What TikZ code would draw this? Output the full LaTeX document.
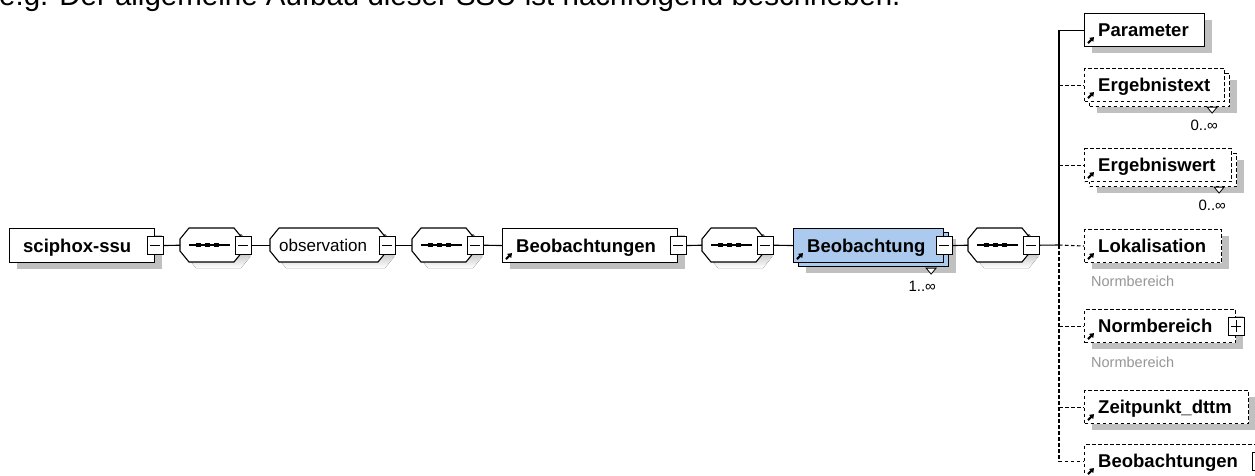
\documentclass[tikz,border=0pt]{standalone}
\usepackage{fontspec}
\setmainfont{Liberation Sans}
\usetikzlibrary{calc,arrows.meta,shadows}
\definecolor{shade}{RGB}{192,192,192}
\definecolor{blu}{RGB}{172,201,238}
\definecolor{gtext}{RGB}{150,150,150}
\tikzset{
  box/.style={draw, line width=1.1pt, fill=white, inner sep=0, anchor=north west, minimum height=34},
  cbox/.style={box, minimum height=33},
  dsh/.style={dash pattern=on 3.5pt off 2.5pt},
  shadowed/.style={drop shadow={shadow xshift=7pt, shadow yshift=-6pt, fill=shade, opacity=1}},
  lbl/.style={font=\fontsize{18.5}{20}\selectfont\bfseries, inner sep=0, anchor=base west},
  rlbl/.style={font=\fontsize{17}{19}\selectfont, inner sep=0, anchor=base west},
  glbl/.style={font=\fontsize{14.5}{16}\selectfont, text=gtext, inner sep=0, anchor=base west},
  mult/.style={font=\fontsize{15}{17}\selectfont, inner sep=0, anchor=base east},
  conn/.style={line width=1.1pt},
  refarrow/.style={line width=2pt, -{Triangle[length=4pt,width=5.5pt]}},
  mbox/.style={draw, line width=1pt, fill=white, minimum width=16, minimum height=18, inner sep=0,
    path picture={\draw[line width=1pt] ([xshift=3pt]path picture bounding box.west) -- ([xshift=-3pt]path picture bounding box.east);}},
  pbox/.style={mbox, path picture={\draw[line width=1pt] ([xshift=3pt]path picture bounding box.west) -- ([xshift=-3pt]path picture bounding box.east);
    \draw[line width=1pt] ([yshift=3pt]path picture bounding box.south) -- ([yshift=-3pt]path picture bounding box.north);}},
  tri/.style={draw=black, line width=0.8pt, fill=white},
}
\newcommand\seqoct[2]{%
  \node[inner sep=0, minimum width=63, minimum height=34, anchor=north west] (#1) at (#2,228) {};
  \fill[shade] (#2+16,234) -- (#2+61,234) -- (#2+70,245) -- (#2+70,257) -- (#2+61,268) -- (#2+16,268) -- (#2+7,257) -- (#2+7,245) -- cycle;
  \draw[line width=1.1pt, fill=white] (#2+9,228) -- (#2+54,228) -- (#2+63,239) -- (#2+63,251) -- (#2+54,262) -- (#2+9,262) -- (#2,251) -- (#2,239) -- cycle;
  \draw[line width=1.1pt] (#2+9,245) -- (#2+50,245);
  \foreach \d in {18,27,36} {\fill (#2+\d-2.5,243) rectangle (#2+\d+2.5,247);}
  \node[mbox] (#1-m) at (#1.east) {};
}
\begin{document}
\begin{tikzpicture}[x=1pt,y=-1pt]
\useasboundingbox (0,0) rectangle (1255,475);
\fill[white] (0,0) rectangle (1255,475);

\node[anchor=base west, font=\fontsize{29.5}{32}\selectfont, inner sep=0] (title) at (-1,5) {e.g. Der allgemeine Aufbau dieser SSU ist nachfolgend beschrieben.};

% ---- main row
\node[box, shadowed, minimum width=145] (ssu) at (9,228) {};
\node[lbl] (ssu-t) at ($(ssu.west)+(14,6.7)$) {sciphox-ssu};
\node[mbox] (ssu-m) at (ssu.east) {};

\seqoct{seqA}{180}

\node[inner sep=0, minimum width=117, minimum height=34, anchor=north west] (obs) at (270,228) {};
\fill[shade] (286,234) -- (385,234) -- (394,245) -- (394,257) -- (385,268) -- (286,268) -- (277,257) -- (277,245) -- cycle;
\draw[line width=1.1pt, fill=white] (279,228) -- (378,228) -- (387,239) -- (387,251) -- (378,262) -- (279,262) -- (270,251) -- (270,239) -- cycle;
\node[rlbl] (obs-t) at ($(obs.west)+(9,6.5)$) {observation};
\node[mbox] (obs-m) at (obs.east) {};

\seqoct{seqB}{412}

\node[box, shadowed, minimum width=175] (beos) at (502,228) {};
\node[lbl] (beos-t) at ($(beos.west)+(14,6.7)$) {Beobachtungen};
\draw[refarrow] ($(beos.south west)+(4,-4)$) -- ++(6,-6);
\node[mbox] (beos-m) at (beos.east) {};

\seqoct{seqC}{702}

\node[box, shadowed, fill=blu, minimum width=150] (beoback) at (798,232) {};
\node[box, fill=blu, minimum width=150] (beo) at (793,228) {};
\node[lbl] (beo-t) at ($(beo.west)+(14,6.7)$) {Beobachtung};
\draw[refarrow] ($(beo.south west)+(4,-4)$) -- ++(6,-6);
\node[mbox] (beo-m) at (beo.east) {};
\draw[tri] ($(beo.south east)+(-18,5)$) -- ++(10,0) -- ++(-5,6) -- cycle;
\node[mult] (beo-n) at ($(beo.south east)+(-8,28)$) {1..∞};

\seqoct{seqD}{968}

\draw[conn] (ssu-m.east) -- (seqA.west);
\draw[conn] (seqA-m.east) -- (obs.west);
\draw[conn] (obs-m.east) -- (seqB.west);
\draw[conn] (seqB-m.east) -- (beos.west);
\draw[conn] (beos-m.east) -- (seqC.west);
\draw[conn] (seqC-m.east) -- (beo.west);
\draw[conn] (beo-m.east) -- (seqD.west);
\coordinate (jn) at (1059,245);
\draw[conn] (seqD-m.east) -- (jn);

% ---- children
\node[cbox, shadowed, minimum width=120] (par) at (1084,13) {};
\node[lbl] (par-t) at ($(par.west)+(14,6.7)$) {Parameter};
\draw[refarrow] ($(par.south west)+(4,-4)$) -- ++(6,-6);

\node[cbox, dsh, shadowed, minimum width=140] (ergtb) at (1089,73) {};
\node[cbox, dsh, minimum width=140] (ergt) at (1084,68) {};
\node[lbl] (ergt-t) at ($(ergt.west)+(14,6.7)$) {Ergebnistext};
\draw[refarrow] ($(ergt.south west)+(4,-4)$) -- ++(6,-6);
\draw[tri] ($(ergt.south east)+(-18,5)$) -- ++(10,0) -- ++(-5,6) -- cycle;
\node[mult] (ergt-n) at ($(ergt.south east)+(-7,28)$) {0..∞};

\node[cbox, dsh, shadowed, minimum width=147] (ergwb) at (1089,153) {};
\node[cbox, dsh, minimum width=147] (ergw) at (1084,148) {};
\node[lbl] (ergw-t) at ($(ergw.west)+(14,6.7)$) {Ergebniswert};
\draw[refarrow] ($(ergw.south west)+(4,-4)$) -- ++(6,-6);
\draw[tri] ($(ergw.south east)+(-18,5)$) -- ++(10,0) -- ++(-5,6) -- cycle;
\node[mult] (ergw-n) at ($(ergw.south east)+(-6,28)$) {0..∞};

\node[cbox, dsh, shadowed, minimum width=137] (lok) at (1084,229) {};
\node[lbl] (lok-t) at ($(lok.west)+(14,6.7)$) {Lokalisation};
\draw[refarrow] ($(lok.south west)+(4,-4)$) -- ++(6,-6);
\node[glbl] (lok-g) at ($(lok.south west)+(7,23)$) {Normbereich};

\node[cbox, dsh, shadowed, minimum width=151] (norm) at (1084,309) {};
\node[lbl] (norm-t) at ($(norm.west)+(14,6.7)$) {Normbereich};
\draw[refarrow] ($(norm.south west)+(4,-4)$) -- ++(6,-6);
\node[pbox] (norm-p) at (norm.east) {};
\node[glbl] (norm-g) at ($(norm.south west)+(7,24)$) {Normbereich};

\node[cbox, dsh, shadowed, minimum width=164] (zeit) at (1084,390) {};
\node[lbl] (zeit-t) at ($(zeit.west)+(14,6.7)$) {Zeitpunkt\_dttm};
\draw[refarrow] ($(zeit.south west)+(4,-4)$) -- ++(6,-6);

\node[cbox, dsh, shadowed, minimum width=175] (beo2) at (1084,444) {};
\node[lbl] (beo2-t) at ($(beo2.west)+(14,6.7)$) {Beobachtungen};
\draw[refarrow] ($(beo2.south west)+(4,-4)$) -- ++(6,-6);
\node[mbox] (beo2-m) at (beo2.east) {};

% ---- child connectors
\draw[conn] (jn) -- (jn |- par.west) -- (par.west);
\draw[conn, dsh] (jn |- ergt.west) -- (ergt.west);
\draw[conn, dsh] (jn |- ergw.west) -- (ergw.west);
\draw[conn, dsh] (jn) -- (lok.west);
\draw[conn, dsh] (jn |- norm.west) -- (norm.west);
\draw[conn, dsh] (jn |- zeit.west) -- (zeit.west);
\draw[conn, dsh] (jn) -- (jn |- beo2.west) -- (beo2.west);
\end{tikzpicture}
\end{document}
